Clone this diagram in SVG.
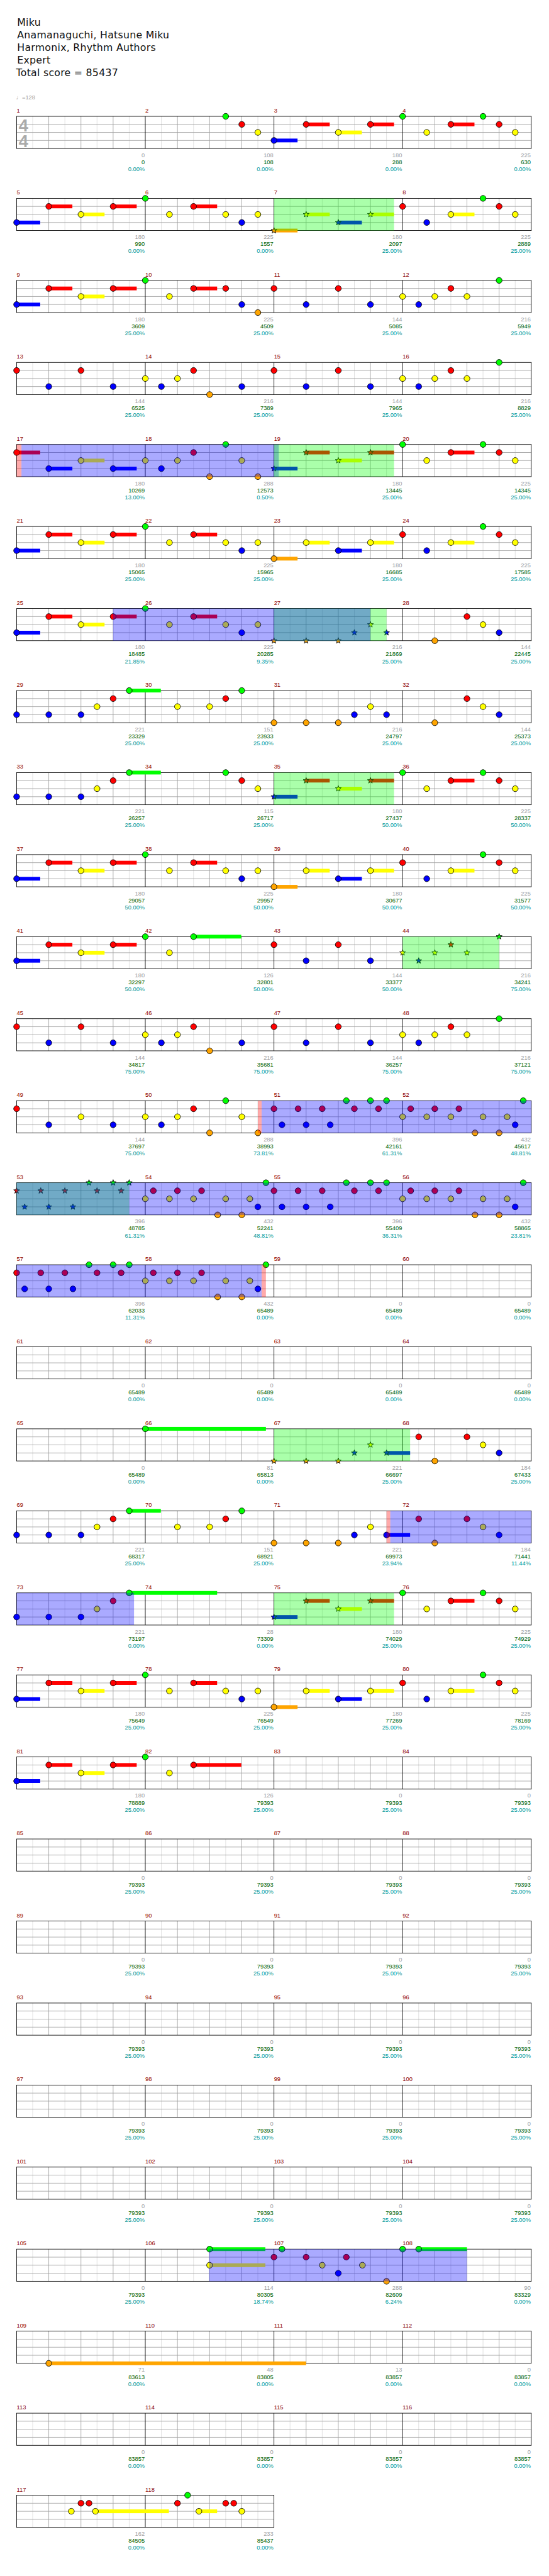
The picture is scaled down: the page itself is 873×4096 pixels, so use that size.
<svg xmlns="http://www.w3.org/2000/svg" width="873" height="4096" viewBox="0 0 873 4096">
<style>
.tt{font-family:"DejaVu Sans",sans-serif;font-size:18.5px;fill:#111;letter-spacing:.3px}
.sm{font-family:"Liberation Sans",Arial,sans-serif;font-size:11px}
.tp{fill:#a0a0a0}
.mn{fill:#8b0000}
.n1,.n2,.n3{text-anchor:end}
.n1{fill:#a0a0a0}.n2{fill:#006400}.n3{fill:#009999}
.ts{font-family:"Liberation Sans",Arial,sans-serif;font-weight:bold;font-size:32px;fill:#aaa}
.g{fill:#00ff00}.r{fill:#ff0000}.y{fill:#ffff00}.b{fill:#0000ff}.o{fill:#ffa500}
.k{stroke:#000;stroke-width:1}
.sp{fill:#00ff00;fill-opacity:.333}
.so{fill:#0000ff;fill-opacity:.333}
.pk{fill:#ff0000;fill-opacity:.333}
.l1{stroke:#dcdcdc;fill:none}.l2{stroke:#a0a0a0;fill:none}.l3{stroke:#000;fill:none}
</style>
<defs>
<circle id="G" r="5.5" class="g k"/>
<circle id="R" r="5.5" class="r k"/>
<circle id="Y" r="5.5" class="y k"/>
<circle id="B" r="5.5" class="b k"/>
<circle id="O" r="5.5" class="o k"/>
<path id="sG" class="g k" d="M0-5.8L1.41-1.94L5.52-1.79L2.28.74L3.41 4.69L0 2.4L-3.41 4.69L-2.28.74L-5.52-1.79L-1.41-1.94Z"/>
<path id="sR" class="r k" d="M0-5.8L1.41-1.94L5.52-1.79L2.28.74L3.41 4.69L0 2.4L-3.41 4.69L-2.28.74L-5.52-1.79L-1.41-1.94Z"/>
<path id="sY" class="y k" d="M0-5.8L1.41-1.94L5.52-1.79L2.28.74L3.41 4.69L0 2.4L-3.41 4.69L-2.28.74L-5.52-1.79L-1.41-1.94Z"/>
<path id="sB" class="b k" d="M0-5.8L1.41-1.94L5.52-1.79L2.28.74L3.41 4.69L0 2.4L-3.41 4.69L-2.28.74L-5.52-1.79L-1.41-1.94Z"/>
<path id="sO" class="o k" d="M0-5.8L1.41-1.94L5.52-1.79L2.28.74L3.41 4.69L0 2.4L-3.41 4.69L-2.28.74L-5.52-1.79L-1.41-1.94Z"/>
<g id="gr4">
<rect x="31" y="0" width="960" height="60" fill="#fff"/>
<path class="l1" d="M61 0v60M121 0v60M181 0v60M241 0v60M301 0v60M361 0v60M421 0v60M481 0v60M541 0v60M601 0v60M661 0v60M721 0v60M781 0v60M841 0v60M901 0v60M961 0v60"/>
<path class="l2" d="M91 0v60M151 0v60M211 0v60M331 0v60M391 0v60M451 0v60M571 0v60M631 0v60M691 0v60M811 0v60M871 0v60M931 0v60M31 15h960M31 30h960M31 45h960"/>
<path class="l3" d="M271 0v60M511 0v60M751 0v60"/>
<rect class="l3" x="31" y="0" width="960" height="60"/>
</g>
<g id="gr2">
<rect x="31" y="0" width="480" height="60" fill="#fff"/>
<path class="l1" d="M61 0v60M121 0v60M181 0v60M241 0v60M301 0v60M361 0v60M421 0v60M481 0v60"/>
<path class="l2" d="M91 0v60M151 0v60M211 0v60M331 0v60M391 0v60M451 0v60M31 15h480M31 30h480M31 45h480"/>
<path class="l3" d="M271 0v60"/>
<rect class="l3" x="31" y="0" width="480" height="60"/>
</g>
<g id="A0">
<rect class="b" x="31" y="41.5" width="44" height="7"/><rect class="r" x="91" y="11.5" width="44" height="7"/><rect class="y" x="151" y="26.5" width="44" height="7"/><rect class="r" x="211" y="11.5" width="44" height="7"/>
<use href="#B" x="31" y="45"/><use href="#R" x="91" y="15"/><use href="#Y" x="151" y="30"/><use href="#R" x="211" y="15"/><use href="#G" x="271" y="0"/><use href="#Y" x="316" y="30"/>
</g>
<g id="A1t">
<rect class="r" x="361" y="11.5" width="44" height="7"/>
<use href="#R" x="361" y="15"/><use href="#Y" x="421" y="30"/><use href="#B" x="451" y="45"/><use href="#Y" x="481" y="30"/>
</g>
<g id="Bh">
<rect class="o" x="511" y="56.5" width="44" height="7"/><rect class="y" x="571" y="26.5" width="44" height="7"/><rect class="b" x="631" y="41.5" width="44" height="7"/><rect class="y" x="691" y="26.5" width="44" height="7"/>
<use href="#O" x="511" y="60"/><use href="#Y" x="571" y="30"/><use href="#B" x="631" y="45"/><use href="#Y" x="691" y="30"/>
</g>
<g id="BhS">
<rect class="o" x="511" y="56.5" width="44" height="7"/><rect class="y" x="571" y="26.5" width="44" height="7"/><rect class="b" x="631" y="41.5" width="44" height="7"/><rect class="y" x="691" y="26.5" width="44" height="7"/>
<use href="#sO" x="511" y="60"/><use href="#sY" x="571" y="30"/><use href="#sB" x="631" y="45"/><use href="#sY" x="691" y="30"/>
</g>
<g id="Bt">
<rect class="y" x="841" y="26.5" width="44" height="7"/>
<use href="#R" x="751" y="15"/><use href="#B" x="796" y="45"/><use href="#Y" x="841" y="30"/><use href="#G" x="901" y="0"/><use href="#R" x="931" y="15"/><use href="#Y" x="961" y="30"/>
</g>
<g id="Ch">
<rect class="b" x="511" y="41.5" width="44" height="7"/><rect class="r" x="571" y="11.5" width="44" height="7"/><rect class="y" x="631" y="26.5" width="44" height="7"/><rect class="r" x="691" y="11.5" width="44" height="7"/>
<use href="#B" x="511" y="45"/><use href="#R" x="571" y="15"/><use href="#Y" x="631" y="30"/><use href="#R" x="691" y="15"/>
</g>
<g id="ChS">
<rect class="b" x="511" y="41.5" width="44" height="7"/><rect class="r" x="571" y="11.5" width="44" height="7"/><rect class="y" x="631" y="26.5" width="44" height="7"/><rect class="r" x="691" y="11.5" width="44" height="7"/>
<use href="#sB" x="511" y="45"/><use href="#sR" x="571" y="15"/><use href="#sY" x="631" y="30"/><use href="#sR" x="691" y="15"/>
</g>
<g id="Ct">
<rect class="r" x="841" y="11.5" width="44" height="7"/>
<use href="#G" x="751" y="0"/><use href="#Y" x="796" y="30"/><use href="#R" x="841" y="15"/><use href="#G" x="901" y="0"/><use href="#R" x="931" y="15"/><use href="#Y" x="961" y="30"/>
</g>
<g id="D1">
<use href="#R" x="31" y="15"/><use href="#B" x="91" y="45"/><use href="#R" x="151" y="15"/><use href="#B" x="211" y="45"/><use href="#Y" x="271" y="30"/><use href="#B" x="301" y="45"/><use href="#Y" x="331" y="30"/><use href="#R" x="361" y="15"/><use href="#O" x="391" y="60"/><use href="#B" x="451" y="45"/>
</g>
<g id="D2">
<use href="#R" x="511" y="15"/><use href="#B" x="571" y="45"/><use href="#R" x="631" y="15"/><use href="#B" x="691" y="45"/><use href="#Y" x="751" y="30"/><use href="#B" x="781" y="45"/><use href="#Y" x="811" y="30"/><use href="#R" x="841" y="15"/><use href="#Y" x="871" y="30"/><use href="#G" x="931" y="0"/>
</g>
<g id="E0">
<use href="#B" x="31" y="45"/><use href="#B" x="91" y="45"/><use href="#B" x="151" y="45"/><use href="#Y" x="181" y="30"/><use href="#R" x="211" y="15"/>
</g>
<g id="E2">
<use href="#Y" x="331" y="30"/><use href="#Y" x="391" y="30"/><use href="#R" x="421" y="15"/><use href="#G" x="451" y="0"/>
</g>
<g id="Fc">
<use href="#O" x="511" y="60"/><use href="#O" x="571" y="60"/><use href="#O" x="631" y="60"/><use href="#B" x="661" y="45"/><use href="#Y" x="691" y="30"/><use href="#B" x="721" y="45"/>
</g>
<g id="Fs">
<use href="#sO" x="511" y="60"/><use href="#sO" x="571" y="60"/><use href="#sO" x="631" y="60"/><use href="#sB" x="661" y="45"/><use href="#sY" x="691" y="30"/><use href="#sB" x="721" y="45"/>
</g>
<g id="Ft">
<use href="#O" x="811" y="60"/><use href="#R" x="871" y="15"/><use href="#Y" x="901" y="30"/><use href="#B" x="931" y="45"/>
</g>
<g id="H">
<use href="#R" x="0" y="15"/><use href="#B" x="15" y="45"/><use href="#R" x="45" y="15"/><use href="#B" x="60" y="45"/><use href="#R" x="90" y="15"/><use href="#B" x="105" y="45"/><use href="#G" x="135" y="0"/><use href="#R" x="150" y="15"/><use href="#G" x="180" y="0"/><use href="#R" x="195" y="15"/><use href="#G" x="210" y="0"/>
</g>
<g id="HS">
<use href="#sR" x="0" y="15"/><use href="#sB" x="15" y="45"/><use href="#sR" x="45" y="15"/><use href="#sB" x="60" y="45"/><use href="#sR" x="90" y="15"/><use href="#sB" x="105" y="45"/><use href="#sG" x="135" y="0"/><use href="#sR" x="150" y="15"/><use href="#sG" x="180" y="0"/><use href="#sR" x="195" y="15"/><use href="#sG" x="210" y="0"/>
</g>
<g id="I">
<use href="#Y" x="0" y="30"/><use href="#R" x="15" y="15"/><use href="#Y" x="45" y="30"/><use href="#R" x="60" y="15"/><use href="#Y" x="90" y="30"/><use href="#R" x="105" y="15"/><use href="#O" x="135" y="60"/><use href="#Y" x="150" y="30"/><use href="#O" x="180" y="60"/><use href="#Y" x="195" y="30"/><use href="#B" x="210" y="45"/><use href="#G" x="225" y="0"/>
</g>
</defs>
<rect width="873" height="4096" fill="#fff"/>
<g transform="scale(0.8525)">
<g id="header">
<text class="tt" x="32" y="48">Miku</text>
<text class="tt" x="32" y="71.5">Anamanaguchi, Hatsune Miku</text>
<text class="tt" x="32" y="95">Harmonix, Rhythm Authors</text>
<text class="tt" x="32" y="118.5">Expert</text>
<text class="tt" x="30" y="142">Total score = 85437</text>
<text class="sm tp" x="30" y="185">♩=128</text>
</g>

<g id="row1" transform="translate(0,217)">
<use href="#gr4"/>
<text class="ts" x="35" y="28">4</text><text class="ts" x="35" y="58">4</text>
<use href="#G" x="421" y="0"/><use href="#R" x="451" y="15"/><use href="#Y" x="481" y="30"/>
<use href="#Ch"/><use href="#Ct"/>
<text class="sm mn" y="-7"><tspan x="31">1</tspan><tspan x="271">2</tspan><tspan x="511">3</tspan><tspan x="751">4</tspan></text>
<text class="sm n1" y="76"><tspan x="270">0</tspan><tspan x="510">108</tspan><tspan x="750">180</tspan><tspan x="990">225</tspan></text>
<text class="sm n2" y="89"><tspan x="270">0</tspan><tspan x="510">108</tspan><tspan x="750">288</tspan><tspan x="990">630</tspan></text>
<text class="sm n3" y="102"><tspan x="270">0.00%</tspan><tspan x="510">0.00%</tspan><tspan x="750">0.00%</tspan><tspan x="990">0.00%</tspan></text>
</g>

<g id="row2" transform="translate(0,370)">
<use href="#gr4"/>
<use href="#A0"/><use href="#A1t"/><use href="#BhS"/><use href="#Bt"/>
<rect class="sp" x="511" y="0" width="224" height="60"/>
<text class="sm mn" y="-7"><tspan x="31">5</tspan><tspan x="271">6</tspan><tspan x="511">7</tspan><tspan x="751">8</tspan></text>
<text class="sm n1" y="76"><tspan x="270">180</tspan><tspan x="510">225</tspan><tspan x="750">180</tspan><tspan x="990">225</tspan></text>
<text class="sm n2" y="89"><tspan x="270">990</tspan><tspan x="510">1557</tspan><tspan x="750">2097</tspan><tspan x="990">2889</tspan></text>
<text class="sm n3" y="102"><tspan x="270">0.00%</tspan><tspan x="510">0.00%</tspan><tspan x="750">25.00%</tspan><tspan x="990">25.00%</tspan></text>
</g>

<g id="row3" transform="translate(0,523)">
<use href="#gr4"/>
<use href="#A0"/>
<rect class="r" x="361" y="11.5" width="44" height="7"/>
<use href="#R" x="361" y="15"/><use href="#R" x="421" y="15"/><use href="#B" x="451" y="45"/><use href="#O" x="481" y="60"/>
<use href="#D2"/>
<text class="sm mn" y="-7"><tspan x="31">9</tspan><tspan x="271">10</tspan><tspan x="511">11</tspan><tspan x="751">12</tspan></text>
<text class="sm n1" y="76"><tspan x="270">180</tspan><tspan x="510">225</tspan><tspan x="750">144</tspan><tspan x="990">216</tspan></text>
<text class="sm n2" y="89"><tspan x="270">3609</tspan><tspan x="510">4509</tspan><tspan x="750">5085</tspan><tspan x="990">5949</tspan></text>
<text class="sm n3" y="102"><tspan x="270">25.00%</tspan><tspan x="510">25.00%</tspan><tspan x="750">25.00%</tspan><tspan x="990">25.00%</tspan></text>
</g>

<g id="row4" transform="translate(0,676)">
<use href="#gr4"/>
<use href="#D1"/><use href="#D2"/>
<text class="sm mn" y="-7"><tspan x="31">13</tspan><tspan x="271">14</tspan><tspan x="511">15</tspan><tspan x="751">16</tspan></text>
<text class="sm n1" y="76"><tspan x="270">144</tspan><tspan x="510">216</tspan><tspan x="750">144</tspan><tspan x="990">216</tspan></text>
<text class="sm n2" y="89"><tspan x="270">6525</tspan><tspan x="510">7389</tspan><tspan x="750">7965</tspan><tspan x="990">8829</tspan></text>
<text class="sm n3" y="102"><tspan x="270">25.00%</tspan><tspan x="510">25.00%</tspan><tspan x="750">25.00%</tspan><tspan x="990">25.00%</tspan></text>
</g>

<g id="row5" transform="translate(0,829)">
<use href="#gr4"/>
<rect class="r" x="31" y="11.5" width="44" height="7"/><rect class="b" x="91" y="41.5" width="44" height="7"/><rect class="y" x="151" y="26.5" width="44" height="7"/><rect class="b" x="211" y="41.5" width="44" height="7"/>
<use href="#R" x="31" y="15"/><use href="#B" x="91" y="45"/><use href="#Y" x="151" y="30"/><use href="#B" x="211" y="45"/><use href="#Y" x="271" y="30"/><use href="#B" x="301" y="45"/><use href="#Y" x="331" y="30"/><use href="#R" x="361" y="15"/><use href="#O" x="391" y="60"/><use href="#G" x="421" y="0"/><use href="#Y" x="451" y="30"/><use href="#O" x="481" y="60"/>
<use href="#ChS"/><use href="#Ct"/>
<rect class="pk" x="31" y="0" width="9" height="60"/>
<rect class="so" x="40" y="0" width="480" height="60"/>
<rect class="sp" x="511" y="0" width="224" height="60"/>
<text class="sm mn" y="-7"><tspan x="31">17</tspan><tspan x="271">18</tspan><tspan x="511">19</tspan><tspan x="751">20</tspan></text>
<text class="sm n1" y="76"><tspan x="270">180</tspan><tspan x="510">288</tspan><tspan x="750">180</tspan><tspan x="990">225</tspan></text>
<text class="sm n2" y="89"><tspan x="270">10269</tspan><tspan x="510">12573</tspan><tspan x="750">13445</tspan><tspan x="990">14345</tspan></text>
<text class="sm n3" y="102"><tspan x="270">13.00%</tspan><tspan x="510">0.50%</tspan><tspan x="750">25.00%</tspan><tspan x="990">25.00%</tspan></text>
</g>

<g id="row6" transform="translate(0,982)">
<use href="#gr4"/>
<use href="#A0"/><use href="#A1t"/><use href="#Bh"/><use href="#Bt"/>
<text class="sm mn" y="-7"><tspan x="31">21</tspan><tspan x="271">22</tspan><tspan x="511">23</tspan><tspan x="751">24</tspan></text>
<text class="sm n1" y="76"><tspan x="270">180</tspan><tspan x="510">225</tspan><tspan x="750">180</tspan><tspan x="990">225</tspan></text>
<text class="sm n2" y="89"><tspan x="270">15065</tspan><tspan x="510">15965</tspan><tspan x="750">16685</tspan><tspan x="990">17585</tspan></text>
<text class="sm n3" y="102"><tspan x="270">25.00%</tspan><tspan x="510">25.00%</tspan><tspan x="750">25.00%</tspan><tspan x="990">25.00%</tspan></text>
</g>

<g id="row7" transform="translate(0,1135)">
<use href="#gr4"/>
<use href="#A0"/><use href="#A1t"/><use href="#Fs"/><use href="#Ft"/>
<rect class="sp" x="511" y="0" width="210" height="60"/>
<rect class="so" x="211" y="0" width="480" height="60"/>
<text class="sm mn" y="-7"><tspan x="31">25</tspan><tspan x="271">26</tspan><tspan x="511">27</tspan><tspan x="751">28</tspan></text>
<text class="sm n1" y="76"><tspan x="270">180</tspan><tspan x="510">225</tspan><tspan x="750">216</tspan><tspan x="990">144</tspan></text>
<text class="sm n2" y="89"><tspan x="270">18485</tspan><tspan x="510">20285</tspan><tspan x="750">21869</tspan><tspan x="990">22445</tspan></text>
<text class="sm n3" y="102"><tspan x="270">21.85%</tspan><tspan x="510">9.35%</tspan><tspan x="750">25.00%</tspan><tspan x="990">25.00%</tspan></text>
</g>

<g id="row8" transform="translate(0,1288)">
<use href="#gr4"/>
<use href="#E0"/>
<rect class="g" x="241" y="-3.5" width="59" height="7"/><use href="#G" x="241" y="0"/>
<use href="#E2"/><use href="#Fc"/><use href="#Ft"/>
<text class="sm mn" y="-7"><tspan x="31">29</tspan><tspan x="271">30</tspan><tspan x="511">31</tspan><tspan x="751">32</tspan></text>
<text class="sm n1" y="76"><tspan x="270">221</tspan><tspan x="510">151</tspan><tspan x="750">216</tspan><tspan x="990">144</tspan></text>
<text class="sm n2" y="89"><tspan x="270">23329</tspan><tspan x="510">23933</tspan><tspan x="750">24797</tspan><tspan x="990">25373</tspan></text>
<text class="sm n3" y="102"><tspan x="270">25.00%</tspan><tspan x="510">25.00%</tspan><tspan x="750">25.00%</tspan><tspan x="990">25.00%</tspan></text>
</g>

<g id="row9" transform="translate(0,1441)">
<use href="#gr4"/>
<use href="#E0"/>
<rect class="g" x="241" y="-3.5" width="59" height="7"/><use href="#G" x="241" y="0"/>
<use href="#G" x="421" y="0"/><use href="#R" x="451" y="15"/><use href="#Y" x="481" y="30"/>
<use href="#ChS"/><use href="#Ct"/>
<rect class="sp" x="511" y="0" width="224" height="60"/>
<text class="sm mn" y="-7"><tspan x="31">33</tspan><tspan x="271">34</tspan><tspan x="511">35</tspan><tspan x="751">36</tspan></text>
<text class="sm n1" y="76"><tspan x="270">221</tspan><tspan x="510">115</tspan><tspan x="750">180</tspan><tspan x="990">225</tspan></text>
<text class="sm n2" y="89"><tspan x="270">26257</tspan><tspan x="510">26717</tspan><tspan x="750">27437</tspan><tspan x="990">28337</tspan></text>
<text class="sm n3" y="102"><tspan x="270">25.00%</tspan><tspan x="510">25.00%</tspan><tspan x="750">50.00%</tspan><tspan x="990">50.00%</tspan></text>
</g>

<g id="row10" transform="translate(0,1594)">
<use href="#gr4"/>
<use href="#A0"/><use href="#A1t"/><use href="#Bh"/><use href="#Bt"/>
<text class="sm mn" y="-7"><tspan x="31">37</tspan><tspan x="271">38</tspan><tspan x="511">39</tspan><tspan x="751">40</tspan></text>
<text class="sm n1" y="76"><tspan x="270">180</tspan><tspan x="510">225</tspan><tspan x="750">180</tspan><tspan x="990">225</tspan></text>
<text class="sm n2" y="89"><tspan x="270">29057</tspan><tspan x="510">29957</tspan><tspan x="750">30677</tspan><tspan x="990">31577</tspan></text>
<text class="sm n3" y="102"><tspan x="270">50.00%</tspan><tspan x="510">50.00%</tspan><tspan x="750">50.00%</tspan><tspan x="990">50.00%</tspan></text>
</g>

<g id="row11" transform="translate(0,1747)">
<use href="#gr4"/>
<use href="#A0"/>
<rect class="g" x="361" y="-3.5" width="89" height="7"/><use href="#G" x="361" y="0"/>
<use href="#R" x="511" y="15"/><use href="#B" x="571" y="45"/><use href="#R" x="631" y="15"/><use href="#B" x="691" y="45"/>
<use href="#sY" x="751" y="30"/><use href="#sB" x="781" y="45"/><use href="#sY" x="811" y="30"/><use href="#sR" x="841" y="15"/><use href="#sY" x="871" y="30"/><use href="#sG" x="931" y="0"/>
<rect class="sp" x="751" y="0" width="180" height="60"/>
<text class="sm mn" y="-7"><tspan x="31">41</tspan><tspan x="271">42</tspan><tspan x="511">43</tspan><tspan x="751">44</tspan></text>
<text class="sm n1" y="76"><tspan x="270">180</tspan><tspan x="510">126</tspan><tspan x="750">144</tspan><tspan x="990">216</tspan></text>
<text class="sm n2" y="89"><tspan x="270">32297</tspan><tspan x="510">32801</tspan><tspan x="750">33377</tspan><tspan x="990">34241</tspan></text>
<text class="sm n3" y="102"><tspan x="270">50.00%</tspan><tspan x="510">50.00%</tspan><tspan x="750">50.00%</tspan><tspan x="990">75.00%</tspan></text>
</g>

<g id="row12" transform="translate(0,1900)">
<use href="#gr4"/>
<use href="#D1"/><use href="#D2"/>
<text class="sm mn" y="-7"><tspan x="31">45</tspan><tspan x="271">46</tspan><tspan x="511">47</tspan><tspan x="751">48</tspan></text>
<text class="sm n1" y="76"><tspan x="270">144</tspan><tspan x="510">216</tspan><tspan x="750">144</tspan><tspan x="990">216</tspan></text>
<text class="sm n2" y="89"><tspan x="270">34817</tspan><tspan x="510">35681</tspan><tspan x="750">36257</tspan><tspan x="990">37121</tspan></text>
<text class="sm n3" y="102"><tspan x="270">75.00%</tspan><tspan x="510">75.00%</tspan><tspan x="750">75.00%</tspan><tspan x="990">75.00%</tspan></text>
</g>

<g id="row13" transform="translate(0,2053)">
<use href="#gr4"/>
<use href="#R" x="31" y="15"/><use href="#B" x="91" y="45"/><use href="#Y" x="151" y="30"/><use href="#B" x="211" y="45"/><use href="#Y" x="271" y="30"/><use href="#B" x="301" y="45"/><use href="#Y" x="331" y="30"/><use href="#R" x="361" y="15"/><use href="#O" x="391" y="60"/><use href="#G" x="421" y="0"/><use href="#Y" x="451" y="30"/><use href="#O" x="481" y="60"/>
<use href="#H" x="511"/><use href="#I" x="751"/>
<rect class="pk" x="481" y="0" width="7" height="60"/>
<rect class="so" x="488" y="0" width="503" height="60"/>
<text class="sm mn" y="-7"><tspan x="31">49</tspan><tspan x="271">50</tspan><tspan x="511">51</tspan><tspan x="751">52</tspan></text>
<text class="sm n1" y="76"><tspan x="270">144</tspan><tspan x="510">288</tspan><tspan x="750">396</tspan><tspan x="990">432</tspan></text>
<text class="sm n2" y="89"><tspan x="270">37697</tspan><tspan x="510">38993</tspan><tspan x="750">42161</tspan><tspan x="990">45617</tspan></text>
<text class="sm n3" y="102"><tspan x="270">75.00%</tspan><tspan x="510">73.81%</tspan><tspan x="750">61.31%</tspan><tspan x="990">48.81%</tspan></text>
</g>

<g id="row14" transform="translate(0,2206)">
<use href="#gr4"/>
<use href="#HS" x="31"/><use href="#I" x="271"/><use href="#H" x="511"/><use href="#I" x="751"/>
<rect class="sp" x="31" y="0" width="210" height="60"/>
<rect class="so" x="31" y="0" width="960" height="60"/>
<text class="sm mn" y="-7"><tspan x="31">53</tspan><tspan x="271">54</tspan><tspan x="511">55</tspan><tspan x="751">56</tspan></text>
<text class="sm n1" y="76"><tspan x="270">396</tspan><tspan x="510">432</tspan><tspan x="750">396</tspan><tspan x="990">432</tspan></text>
<text class="sm n2" y="89"><tspan x="270">48785</tspan><tspan x="510">52241</tspan><tspan x="750">55409</tspan><tspan x="990">58865</tspan></text>
<text class="sm n3" y="102"><tspan x="270">61.31%</tspan><tspan x="510">48.81%</tspan><tspan x="750">36.31%</tspan><tspan x="990">23.81%</tspan></text>
</g>

<g id="row15" transform="translate(0,2359)">
<use href="#gr4"/>
<use href="#H" x="31"/><use href="#I" x="271"/>
<rect class="so" x="31" y="0" width="457" height="60"/>
<rect class="pk" x="488" y="0" width="8" height="60"/>
<text class="sm mn" y="-7"><tspan x="31">57</tspan><tspan x="271">58</tspan><tspan x="511">59</tspan><tspan x="751">60</tspan></text>
<text class="sm n1" y="76"><tspan x="270">396</tspan><tspan x="510">432</tspan><tspan x="750">0</tspan><tspan x="990">0</tspan></text>
<text class="sm n2" y="89"><tspan x="270">62033</tspan><tspan x="510">65489</tspan><tspan x="750">65489</tspan><tspan x="990">65489</tspan></text>
<text class="sm n3" y="102"><tspan x="270">11.31%</tspan><tspan x="510">0.00%</tspan><tspan x="750">0.00%</tspan><tspan x="990">0.00%</tspan></text>
</g>

<g id="row16" transform="translate(0,2512)">
<use href="#gr4"/>
<text class="sm mn" y="-7"><tspan x="31">61</tspan><tspan x="271">62</tspan><tspan x="511">63</tspan><tspan x="751">64</tspan></text>
<text class="sm n1" y="76"><tspan x="270">0</tspan><tspan x="510">0</tspan><tspan x="750">0</tspan><tspan x="990">0</tspan></text>
<text class="sm n2" y="89"><tspan x="270">65489</tspan><tspan x="510">65489</tspan><tspan x="750">65489</tspan><tspan x="990">65489</tspan></text>
<text class="sm n3" y="102"><tspan x="270">0.00%</tspan><tspan x="510">0.00%</tspan><tspan x="750">0.00%</tspan><tspan x="990">0.00%</tspan></text>
</g>

<g id="row17" transform="translate(0,2665)">
<use href="#gr4"/>
<rect class="g" x="271" y="-3.5" width="225" height="7"/><use href="#G" x="271" y="0"/>
<rect class="b" x="721" y="41.5" width="44" height="7"/>
<use href="#Fs"/><use href="#R" x="781" y="15"/><use href="#Ft"/>
<rect class="sp" x="511" y="0" width="254" height="60"/>
<text class="sm mn" y="-7"><tspan x="31">65</tspan><tspan x="271">66</tspan><tspan x="511">67</tspan><tspan x="751">68</tspan></text>
<text class="sm n1" y="76"><tspan x="270">0</tspan><tspan x="510">81</tspan><tspan x="750">221</tspan><tspan x="990">184</tspan></text>
<text class="sm n2" y="89"><tspan x="270">65489</tspan><tspan x="510">65813</tspan><tspan x="750">66697</tspan><tspan x="990">67433</tspan></text>
<text class="sm n3" y="102"><tspan x="270">0.00%</tspan><tspan x="510">0.00%</tspan><tspan x="750">25.00%</tspan><tspan x="990">25.00%</tspan></text>
</g>

<g id="row18" transform="translate(0,2818)">
<use href="#gr4"/>
<use href="#E0"/>
<rect class="g" x="241" y="-3.5" width="59" height="7"/><use href="#G" x="241" y="0"/>
<use href="#E2"/>
<rect class="b" x="721" y="41.5" width="44" height="7"/>
<use href="#Fc"/><use href="#R" x="781" y="15"/><use href="#Ft"/>
<rect class="pk" x="721" y="0" width="7" height="60"/>
<rect class="so" x="728" y="0" width="263" height="60"/>
<text class="sm mn" y="-7"><tspan x="31">69</tspan><tspan x="271">70</tspan><tspan x="511">71</tspan><tspan x="751">72</tspan></text>
<text class="sm n1" y="76"><tspan x="270">221</tspan><tspan x="510">151</tspan><tspan x="750">221</tspan><tspan x="990">184</tspan></text>
<text class="sm n2" y="89"><tspan x="270">68317</tspan><tspan x="510">68921</tspan><tspan x="750">69973</tspan><tspan x="990">71441</tspan></text>
<text class="sm n3" y="102"><tspan x="270">25.00%</tspan><tspan x="510">25.00%</tspan><tspan x="750">23.94%</tspan><tspan x="990">11.44%</tspan></text>
</g>

<g id="row19" transform="translate(0,2971)">
<use href="#gr4"/>
<use href="#E0"/>
<rect class="g" x="241" y="-3.5" width="164" height="7"/><use href="#G" x="241" y="0"/>
<use href="#ChS"/><use href="#Ct"/>
<rect class="so" x="31" y="0" width="219" height="60"/>
<rect class="sp" x="511" y="0" width="224" height="60"/>
<text class="sm mn" y="-7"><tspan x="31">73</tspan><tspan x="271">74</tspan><tspan x="511">75</tspan><tspan x="751">76</tspan></text>
<text class="sm n1" y="76"><tspan x="270">221</tspan><tspan x="510">28</tspan><tspan x="750">180</tspan><tspan x="990">225</tspan></text>
<text class="sm n2" y="89"><tspan x="270">73197</tspan><tspan x="510">73309</tspan><tspan x="750">74029</tspan><tspan x="990">74929</tspan></text>
<text class="sm n3" y="102"><tspan x="270">0.00%</tspan><tspan x="510">0.00%</tspan><tspan x="750">25.00%</tspan><tspan x="990">25.00%</tspan></text>
</g>

<g id="row20" transform="translate(0,3124)">
<use href="#gr4"/>
<use href="#A0"/><use href="#A1t"/><use href="#Bh"/><use href="#Bt"/>
<text class="sm mn" y="-7"><tspan x="31">77</tspan><tspan x="271">78</tspan><tspan x="511">79</tspan><tspan x="751">80</tspan></text>
<text class="sm n1" y="76"><tspan x="270">180</tspan><tspan x="510">225</tspan><tspan x="750">180</tspan><tspan x="990">225</tspan></text>
<text class="sm n2" y="89"><tspan x="270">75649</tspan><tspan x="510">76549</tspan><tspan x="750">77269</tspan><tspan x="990">78169</tspan></text>
<text class="sm n3" y="102"><tspan x="270">25.00%</tspan><tspan x="510">25.00%</tspan><tspan x="750">25.00%</tspan><tspan x="990">25.00%</tspan></text>
</g>

<g id="row21" transform="translate(0,3277)">
<use href="#gr4"/>
<use href="#A0"/>
<rect class="r" x="361" y="11.5" width="89" height="7"/><use href="#R" x="361" y="15"/>
<text class="sm mn" y="-7"><tspan x="31">81</tspan><tspan x="271">82</tspan><tspan x="511">83</tspan><tspan x="751">84</tspan></text>
<text class="sm n1" y="76"><tspan x="270">180</tspan><tspan x="510">126</tspan><tspan x="750">0</tspan><tspan x="990">0</tspan></text>
<text class="sm n2" y="89"><tspan x="270">78889</tspan><tspan x="510">79393</tspan><tspan x="750">79393</tspan><tspan x="990">79393</tspan></text>
<text class="sm n3" y="102"><tspan x="270">25.00%</tspan><tspan x="510">25.00%</tspan><tspan x="750">25.00%</tspan><tspan x="990">25.00%</tspan></text>
</g>

<g id="row22" transform="translate(0,3430)">
<use href="#gr4"/>
<text class="sm mn" y="-7"><tspan x="31">85</tspan><tspan x="271">86</tspan><tspan x="511">87</tspan><tspan x="751">88</tspan></text>
<text class="sm n1" y="76"><tspan x="270">0</tspan><tspan x="510">0</tspan><tspan x="750">0</tspan><tspan x="990">0</tspan></text>
<text class="sm n2" y="89"><tspan x="270">79393</tspan><tspan x="510">79393</tspan><tspan x="750">79393</tspan><tspan x="990">79393</tspan></text>
<text class="sm n3" y="102"><tspan x="270">25.00%</tspan><tspan x="510">25.00%</tspan><tspan x="750">25.00%</tspan><tspan x="990">25.00%</tspan></text>
</g>

<g id="row23" transform="translate(0,3583)">
<use href="#gr4"/>
<text class="sm mn" y="-7"><tspan x="31">89</tspan><tspan x="271">90</tspan><tspan x="511">91</tspan><tspan x="751">92</tspan></text>
<text class="sm n1" y="76"><tspan x="270">0</tspan><tspan x="510">0</tspan><tspan x="750">0</tspan><tspan x="990">0</tspan></text>
<text class="sm n2" y="89"><tspan x="270">79393</tspan><tspan x="510">79393</tspan><tspan x="750">79393</tspan><tspan x="990">79393</tspan></text>
<text class="sm n3" y="102"><tspan x="270">25.00%</tspan><tspan x="510">25.00%</tspan><tspan x="750">25.00%</tspan><tspan x="990">25.00%</tspan></text>
</g>

<g id="row24" transform="translate(0,3736)">
<use href="#gr4"/>
<text class="sm mn" y="-7"><tspan x="31">93</tspan><tspan x="271">94</tspan><tspan x="511">95</tspan><tspan x="751">96</tspan></text>
<text class="sm n1" y="76"><tspan x="270">0</tspan><tspan x="510">0</tspan><tspan x="750">0</tspan><tspan x="990">0</tspan></text>
<text class="sm n2" y="89"><tspan x="270">79393</tspan><tspan x="510">79393</tspan><tspan x="750">79393</tspan><tspan x="990">79393</tspan></text>
<text class="sm n3" y="102"><tspan x="270">25.00%</tspan><tspan x="510">25.00%</tspan><tspan x="750">25.00%</tspan><tspan x="990">25.00%</tspan></text>
</g>

<g id="row25" transform="translate(0,3889)">
<use href="#gr4"/>
<text class="sm mn" y="-7"><tspan x="31">97</tspan><tspan x="271">98</tspan><tspan x="511">99</tspan><tspan x="751">100</tspan></text>
<text class="sm n1" y="76"><tspan x="270">0</tspan><tspan x="510">0</tspan><tspan x="750">0</tspan><tspan x="990">0</tspan></text>
<text class="sm n2" y="89"><tspan x="270">79393</tspan><tspan x="510">79393</tspan><tspan x="750">79393</tspan><tspan x="990">79393</tspan></text>
<text class="sm n3" y="102"><tspan x="270">25.00%</tspan><tspan x="510">25.00%</tspan><tspan x="750">25.00%</tspan><tspan x="990">25.00%</tspan></text>
</g>

<g id="row26" transform="translate(0,4042)">
<use href="#gr4"/>
<text class="sm mn" y="-7"><tspan x="31">101</tspan><tspan x="271">102</tspan><tspan x="511">103</tspan><tspan x="751">104</tspan></text>
<text class="sm n1" y="76"><tspan x="270">0</tspan><tspan x="510">0</tspan><tspan x="750">0</tspan><tspan x="990">0</tspan></text>
<text class="sm n2" y="89"><tspan x="270">79393</tspan><tspan x="510">79393</tspan><tspan x="750">79393</tspan><tspan x="990">79393</tspan></text>
<text class="sm n3" y="102"><tspan x="270">25.00%</tspan><tspan x="510">25.00%</tspan><tspan x="750">25.00%</tspan><tspan x="990">25.00%</tspan></text>
</g>

<g id="row27" transform="translate(0,4195)">
<use href="#gr4"/>
<rect class="g" x="391" y="-3.5" width="104" height="7"/><rect class="y" x="391" y="26.5" width="104" height="7"/>
<use href="#G" x="391" y="0"/><use href="#Y" x="391" y="30"/>
<use href="#R" x="511" y="15"/><use href="#G" x="526" y="0"/><use href="#R" x="571" y="15"/><use href="#Y" x="601" y="30"/><use href="#B" x="631" y="45"/><use href="#R" x="646" y="15"/><use href="#Y" x="676" y="30"/><use href="#O" x="721" y="60"/><use href="#G" x="751" y="0"/>
<rect class="g" x="781" y="-3.5" width="90" height="7"/><use href="#G" x="781" y="0"/>
<rect class="so" x="390" y="0" width="481" height="60"/>
<text class="sm mn" y="-7"><tspan x="31">105</tspan><tspan x="271">106</tspan><tspan x="511">107</tspan><tspan x="751">108</tspan></text>
<text class="sm n1" y="76"><tspan x="270">0</tspan><tspan x="510">114</tspan><tspan x="750">288</tspan><tspan x="990">90</tspan></text>
<text class="sm n2" y="89"><tspan x="270">79393</tspan><tspan x="510">80305</tspan><tspan x="750">82609</tspan><tspan x="990">83329</tspan></text>
<text class="sm n3" y="102"><tspan x="270">25.00%</tspan><tspan x="510">18.74%</tspan><tspan x="750">6.24%</tspan><tspan x="990">0.00%</tspan></text>
</g>

<g id="row28" transform="translate(0,4348)">
<use href="#gr4"/>
<rect class="o" x="91" y="56.5" width="480" height="7"/><use href="#O" x="91" y="60"/>
<text class="sm mn" y="-7"><tspan x="31">109</tspan><tspan x="271">110</tspan><tspan x="511">111</tspan><tspan x="751">112</tspan></text>
<text class="sm n1" y="76"><tspan x="270">71</tspan><tspan x="510">48</tspan><tspan x="750">13</tspan><tspan x="990">0</tspan></text>
<text class="sm n2" y="89"><tspan x="270">83613</tspan><tspan x="510">83805</tspan><tspan x="750">83857</tspan><tspan x="990">83857</tspan></text>
<text class="sm n3" y="102"><tspan x="270">0.00%</tspan><tspan x="510">0.00%</tspan><tspan x="750">0.00%</tspan><tspan x="990">0.00%</tspan></text>
</g>

<g id="row29" transform="translate(0,4501)">
<use href="#gr4"/>
<text class="sm mn" y="-7"><tspan x="31">113</tspan><tspan x="271">114</tspan><tspan x="511">115</tspan><tspan x="751">116</tspan></text>
<text class="sm n1" y="76"><tspan x="270">0</tspan><tspan x="510">0</tspan><tspan x="750">0</tspan><tspan x="990">0</tspan></text>
<text class="sm n2" y="89"><tspan x="270">83857</tspan><tspan x="510">83857</tspan><tspan x="750">83857</tspan><tspan x="990">83857</tspan></text>
<text class="sm n3" y="102"><tspan x="270">0.00%</tspan><tspan x="510">0.00%</tspan><tspan x="750">0.00%</tspan><tspan x="990">0.00%</tspan></text>
</g>

<g id="row30" transform="translate(0,4654)">
<use href="#gr2"/>
<use href="#Y" x="133" y="30"/><use href="#R" x="151" y="15"/><use href="#R" x="166" y="15"/>
<rect class="y" x="178" y="26.5" width="137" height="7"/><use href="#Y" x="178" y="30"/>
<use href="#R" x="331" y="15"/><use href="#G" x="350" y="0"/>
<rect class="y" x="371" y="26.5" width="34" height="7"/><use href="#Y" x="371" y="30"/>
<use href="#R" x="421" y="15"/><use href="#R" x="436" y="15"/><use href="#Y" x="451" y="30"/>
<text class="sm mn" y="-7"><tspan x="31">117</tspan><tspan x="271">118</tspan></text>
<text class="sm n1" y="76"><tspan x="270">162</tspan><tspan x="510">233</tspan></text>
<text class="sm n2" y="89"><tspan x="270">84505</tspan><tspan x="510">85437</tspan></text>
<text class="sm n3" y="102"><tspan x="270">0.00%</tspan><tspan x="510">0.00%</tspan></text>
</g>
</g>
</svg>
